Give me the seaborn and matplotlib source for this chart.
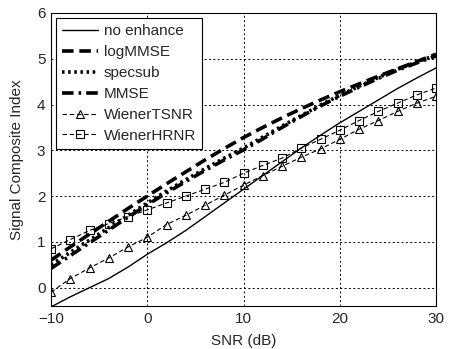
import numpy as np
import pandas as pd
import matplotlib
matplotlib.use("Agg")
import matplotlib.pyplot as plt
import seaborn as sns

# data -------------------------------------------------------
snr = [-10, -8, -6, -4, -2, 0, 2, 4, 6, 8, 10, 12, 14, 16, 18, 20, 22, 24, 26, 28, 30]

no_enhance = [-0.42, -0.20, 0.00, 0.20, 0.45, 0.73, 0.98, 1.25, 1.55, 1.85, 2.15,
              2.45, 2.75, 3.05, 3.33, 3.60, 3.85, 4.10, 4.35, 4.58, 4.80]
log_mmse = [0.60, 0.89, 1.17, 1.45, 1.73, 2.00, 2.27, 2.53, 2.79, 3.04, 3.28,
            3.50, 3.71, 3.91, 4.10, 4.28, 4.45, 4.62, 4.78, 4.94, 5.10]
specsub = [0.50, 0.77, 1.04, 1.31, 1.58, 1.85, 2.11, 2.36, 2.60, 2.83, 3.05,
           3.29, 3.53, 3.76, 3.99, 4.20, 4.40, 4.59, 4.77, 4.93, 5.08]
mmse = [0.42, 0.70, 0.98, 1.26, 1.54, 1.81, 2.07, 2.32, 2.56, 2.79, 3.01,
        3.25, 3.50, 3.74, 3.97, 4.18, 4.38, 4.57, 4.75, 4.91, 5.06]
wiener_tsnr = [-0.10, 0.20, 0.43, 0.65, 0.89, 1.10, 1.38, 1.58, 1.80, 2.02, 2.24,
               2.45, 2.65, 2.85, 3.03, 3.24, 3.46, 3.65, 3.85, 4.03, 4.18]
wiener_hrnr = [0.85, 1.05, 1.25, 1.40, 1.55, 1.70, 1.85, 2.00, 2.15, 2.30, 2.50,
               2.67, 2.83, 3.05, 3.24, 3.44, 3.65, 3.85, 4.03, 4.21, 4.36]

labels = ["no enhance", "logMMSE", "specsub", "MMSE", "WienerTSNR", "WienerHRNR"]

# style ---------------------------------------------------------
sns.set_style("white")
plt.rcParams['font.family'] = ['Liberation Sans', 'DejaVu Sans']
plt.rcParams['font.size'] = 11

fig = plt.figure(figsize=(4.53, 3.49), dpi=100)
ax = fig.add_axes([51/453, 1-306/349, 385/453, 293/349])

styles = [
    dict(linestyle='-', lw=1.0),
    dict(linestyle=(0, (3.2, 1.6)), lw=2.6),
    dict(linestyle=(0, (0.7, 1.0)), lw=2.6),
    dict(linestyle=(0, (3.2, 1.4, 0.7, 1.4)), lw=2.6),
    dict(linestyle=(0, (4, 2.5)), lw=0.8, marker='^', markersize=5.5,
         markerfacecolor='none', markeredgecolor='k', markeredgewidth=0.8),
    dict(linestyle=(0, (4, 2.5)), lw=0.8, marker='s', markersize=5.5,
         markerfacecolor='none', markeredgecolor='k', markeredgewidth=0.8),
]
series = [no_enhance, log_mmse, specsub, mmse, wiener_tsnr, wiener_hrnr]

for vals, lab, st in zip(series, labels, styles):
    df = pd.DataFrame({"snr": snr, "val": vals})
    sns.lineplot(data=df, x="snr", y="val", ax=ax, color='k', label=lab, **st)

#### axes layout ####
ax.set_xlim(-10, 30)
ax.set_ylim(-0.4, 6)
ax.set_xticks([-10, 0, 10, 20, 30])
ax.set_yticks([0, 1, 2, 3, 4, 5, 6])
ax.set_xlabel("SNR (dB)", labelpad=6)
ax.set_ylabel("Signal Composite Index", labelpad=9)
ax.grid(True, linestyle=(0, (2, 2.5)), color='k', lw=0.7)
ax.tick_params(direction='in', length=3, width=0.7, color='k', labelsize=11, pad=4)
for sp in ax.spines.values():
    sp.set_color('k')
    sp.set_linewidth(0.8)

leg = ax.legend(loc='upper left', fontsize=11, frameon=True, fancybox=False,
                edgecolor='k', framealpha=1, handlelength=2.3, handletextpad=0.4,
                labelspacing=0.45, borderpad=0.4, borderaxespad=0.35, numpoints=1)
leg.get_frame().set_linewidth(0.8)

plt.savefig("out.png", dpi=100)
